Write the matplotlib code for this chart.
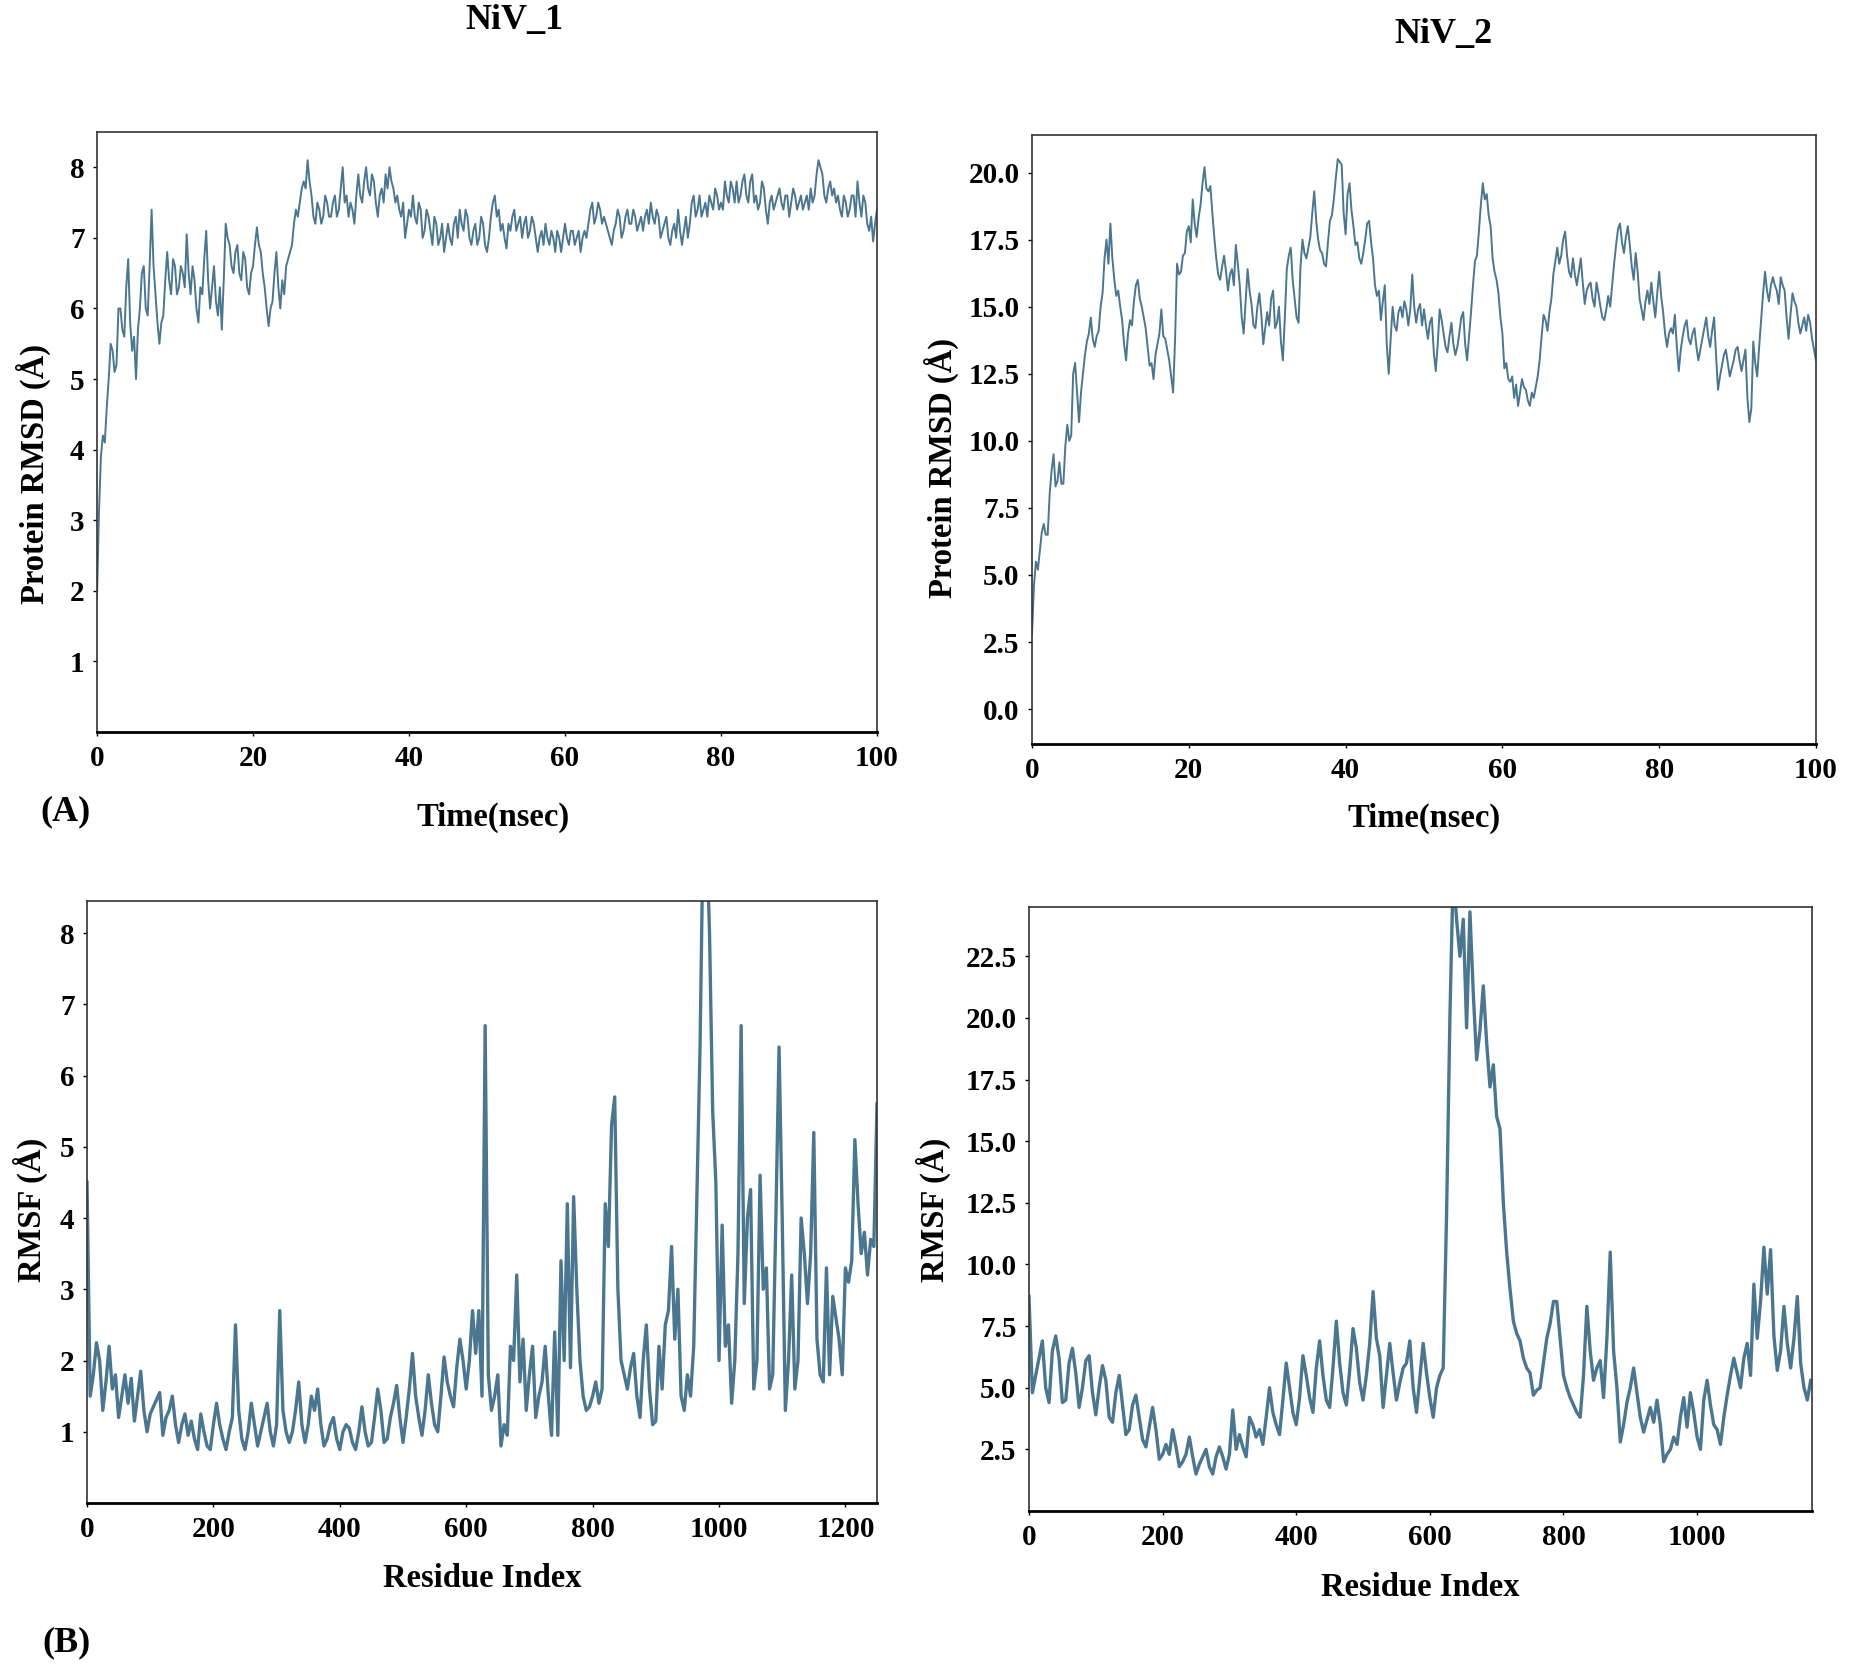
import numpy as np
import matplotlib
matplotlib.use("Agg")
import matplotlib.pyplot as plt

LINE_COLOR = "#4b7690"
FONT = ["Liberation Serif", "DejaVu Serif"]

# ---- RMSD NiV_1, one value every 0.25 ns (0..100 ns)
rmsd_step = 0.25
rmsd_niv1 = [
    1.9, 3.1, 3.9, 4.2, 4.1, 4.6, 5.0, 5.5, 5.4, 5.1, 5.2, 6.0, 6.0, 5.7, 5.6, 6.3, 6.7, 5.8, 5.4, 5.6,
    5.0, 5.7, 6.0, 6.5, 6.6, 6.0, 5.9, 6.6, 7.4, 6.6, 6.2, 5.8, 5.5, 5.8, 5.9, 6.4, 6.8, 6.4, 6.2, 6.7,
    6.6, 6.2, 6.3, 6.6, 6.5, 6.3, 7.05, 6.5, 6.2, 6.6, 6.4, 6.0, 5.8, 6.3, 6.2, 6.7, 7.1, 6.4, 6.0, 6.3,
    6.6, 6.1, 5.9, 6.3, 5.7, 6.4, 7.2, 7.0, 6.9, 6.6, 6.5, 6.8, 6.9, 6.5, 6.4, 6.8, 6.7, 6.3, 6.2, 6.5,
    6.6, 6.9, 7.15, 6.9, 6.8, 6.5, 6.3, 6.0, 5.75, 6.0, 6.1, 6.5, 6.8, 6.3, 6.0, 6.4, 6.2, 6.6, 6.7, 6.8,
    6.9, 7.2, 7.4, 7.3, 7.5, 7.7, 7.8, 7.7, 8.1, 7.8, 7.6, 7.3, 7.2, 7.5, 7.4, 7.2, 7.3, 7.6, 7.5, 7.3,
    7.3, 7.5, 7.6, 7.3, 7.4, 7.7, 8.0, 7.5, 7.6, 7.3, 7.5, 7.4, 7.2, 7.6, 7.9, 7.6, 7.5, 7.8, 8.0, 7.7,
    7.6, 7.9, 7.8, 7.5, 7.3, 7.6, 7.7, 7.5, 7.9, 7.7, 8.0, 7.8, 7.7, 7.5, 7.6, 7.4, 7.3, 7.5, 7.0, 7.2,
    7.4, 7.3, 7.6, 7.3, 7.2, 7.5, 7.4, 7.0, 7.1, 7.4, 7.3, 7.1, 6.9, 7.3, 7.2, 6.9, 7.0, 7.2, 6.8, 7.0,
    7.2, 7.0, 6.9, 7.2, 7.3, 7.0, 7.4, 7.2, 7.1, 7.4, 7.3, 7.0, 6.9, 7.1, 7.2, 6.9, 7.0, 7.3, 7.2, 6.9,
    6.8, 7.0, 7.3, 7.5, 7.6, 7.3, 7.4, 7.1, 7.2, 7.0, 6.85, 7.2, 7.1, 7.3, 7.4, 7.1, 7.2, 7.3, 7.0, 7.2,
    7.3, 7.0, 7.1, 7.3, 7.2, 7.0, 6.8, 7.0, 7.1, 6.9, 7.2, 7.0, 6.9, 7.1, 7.0, 6.8, 7.1, 7.0, 6.8, 7.0,
    7.2, 7.0, 6.9, 7.1, 7.1, 6.9, 7.0, 7.1, 6.8, 7.0, 7.1, 7.0, 7.2, 7.4, 7.5, 7.2, 7.3, 7.5, 7.4, 7.2,
    7.3, 7.2, 7.1, 7.0, 6.9, 7.1, 7.2, 7.4, 7.3, 7.0, 7.1, 7.3, 7.4, 7.2, 7.2, 7.4, 7.3, 7.1, 7.2, 7.3,
    7.1, 7.3, 7.4, 7.2, 7.5, 7.3, 7.2, 7.4, 7.3, 7.0, 7.1, 7.2, 7.3, 7.0, 6.9, 7.1, 7.2, 7.0, 7.4, 7.1,
    6.9, 7.1, 7.3, 7.0, 7.2, 7.5, 7.6, 7.3, 7.4, 7.6, 7.3, 7.4, 7.5, 7.3, 7.6, 7.5, 7.4, 7.7, 7.6, 7.4,
    7.5, 7.4, 7.8, 7.6, 7.5, 7.8, 7.7, 7.5, 7.8, 7.5, 7.6, 7.8, 7.9, 7.6, 7.5, 7.8, 7.9, 7.5, 7.6, 7.4,
    7.5, 7.8, 7.7, 7.4, 7.2, 7.5, 7.6, 7.4, 7.5, 7.6, 7.7, 7.5, 7.4, 7.6, 7.6, 7.3, 7.5, 7.7, 7.6, 7.4,
    7.5, 7.6, 7.4, 7.5, 7.6, 7.4, 7.7, 7.5, 7.6, 7.9, 8.1, 8.0, 7.9, 7.6, 7.5, 7.7, 7.8, 7.6, 7.7, 7.5,
    7.6, 7.4, 7.3, 7.6, 7.5, 7.3, 7.4, 7.6, 7.6, 7.3, 7.8, 7.5, 7.3, 7.6, 7.5, 7.2, 7.1, 7.3, 6.95, 7.2,
    7.4,
]

# ---- RMSD NiV_2, one value every 0.25 ns (0..100 ns)
rmsd_niv2 = [
    2.8, 4.6, 5.5, 5.2, 5.9, 6.6, 6.9, 6.5, 6.5, 8.0, 8.9, 9.5, 8.3, 8.5, 9.2, 8.4, 8.4, 9.8, 10.6, 10.0,
    10.2, 12.5, 12.9, 11.8, 10.7, 11.8, 12.5, 13.2, 13.7, 14.0, 14.6, 13.8, 13.5, 13.9, 14.1, 15.0, 15.5, 16.8, 17.5, 16.6,
    18.1, 16.8, 16.0, 15.4, 15.6, 15.0, 14.5, 13.6, 13.0, 14.0, 14.5, 14.3, 15.2, 15.8, 16.0, 15.3, 15.0, 14.6, 14.2, 13.5,
    12.8, 12.9, 12.3, 13.2, 13.6, 14.0, 14.9, 13.9, 13.8, 13.4, 13.0, 12.4, 11.8, 13.8, 16.6, 16.2, 16.3, 16.9, 17.0, 17.8,
    18.0, 17.4, 19.0, 18.1, 17.6, 18.3, 18.8, 19.6, 20.2, 19.4, 19.3, 19.5, 18.5, 17.6, 16.8, 16.2, 16.0, 16.5, 16.9, 16.3,
    15.6, 16.2, 16.4, 15.8, 17.3, 16.6, 15.8, 14.6, 14.0, 15.2, 16.4, 15.6, 15.1, 14.3, 14.2, 15.0, 15.5, 14.7, 13.6, 14.2,
    14.8, 14.3, 15.3, 15.6, 14.2, 14.4, 15.0, 13.7, 13.0, 14.6, 16.4, 16.9, 17.2, 16.0, 15.3, 14.6, 14.4, 16.5, 17.5, 17.0,
    16.8, 17.2, 17.6, 18.5, 19.3, 18.2, 17.5, 17.1, 17.0, 16.6, 16.5, 17.4, 18.2, 18.4, 19.0, 19.8, 20.5, 20.4, 20.3, 18.5,
    17.7, 19.2, 19.6, 18.6, 18.0, 17.3, 17.4, 16.8, 16.6, 17.0, 17.5, 18.1, 18.2, 17.4, 16.8, 15.8, 15.4, 15.6, 14.5, 15.2,
    15.8, 13.6, 12.5, 13.8, 15.0, 14.3, 14.1, 14.8, 15.0, 14.6, 15.2, 14.9, 14.3, 14.9, 16.2, 15.0, 14.4, 14.9, 15.1, 14.3,
    14.9, 14.3, 13.8, 14.4, 14.6, 13.3, 12.6, 13.6, 14.9, 14.5, 14.0, 13.5, 13.3, 13.9, 14.4, 13.6, 13.2, 13.5, 14.0, 14.6,
    14.8, 13.6, 13.0, 13.9, 14.8, 15.8, 16.7, 16.9, 17.8, 18.8, 19.6, 19.0, 19.2, 18.4, 18.0, 16.8, 16.3, 16.0, 15.5, 14.6,
    14.0, 12.7, 12.9, 12.3, 12.2, 12.4, 11.6, 12.1, 11.3, 11.8, 12.3, 12.0, 11.9, 11.5, 11.3, 11.8, 11.6, 12.0, 12.4, 13.0,
    13.9, 14.7, 14.5, 14.1, 14.8, 15.3, 16.2, 16.7, 17.2, 16.6, 16.9, 17.5, 17.8, 16.9, 16.3, 16.1, 16.8, 16.2, 15.8, 16.3,
    16.8, 15.9, 15.1, 15.6, 15.8, 15.9, 15.3, 15.0, 15.9, 15.5, 15.0, 14.6, 14.5, 14.9, 15.4, 15.0, 15.8, 16.6, 17.3, 17.9,
    18.1, 17.4, 17.0, 17.6, 18.0, 17.3, 16.5, 16.0, 17.0, 16.3, 15.3, 14.9, 14.5, 15.2, 15.6, 15.1, 15.9, 15.2, 14.6, 15.5,
    16.3, 15.4, 14.8, 14.0, 13.5, 14.0, 14.2, 14.0, 14.7, 13.5, 12.6, 13.4, 13.9, 14.3, 14.5, 13.8, 13.6, 14.0, 14.2, 13.5,
    13.0, 13.4, 13.8, 14.2, 14.6, 13.9, 13.5, 14.1, 14.6, 13.2, 11.9, 12.4, 12.8, 13.2, 13.4, 12.9, 12.4, 12.7, 13.0, 13.4,
    13.5, 13.0, 12.6, 13.0, 13.4, 11.6, 10.7, 11.2, 13.7, 12.9, 12.4, 13.5, 14.5, 15.5, 16.3, 15.6, 15.2, 15.8, 16.1, 15.8,
    15.6, 15.1, 16.1, 15.8, 15.6, 14.6, 13.8, 14.7, 15.5, 15.2, 15.0, 14.4, 14.0, 14.3, 14.6, 14.1, 14.7, 14.4, 13.8, 13.4,
    13.0,
]

# ---- RMSF NiV_1, one value every 5 residues (0..1250)
rmsf_step = 5
rmsf_niv1 = [
    4.5, 1.5, 1.8, 2.25, 2.0, 1.3, 1.7, 2.2, 1.6, 1.8,
    1.2, 1.5, 1.8, 1.4, 1.75, 1.15, 1.5, 1.85, 1.3, 1.0,
    1.25, 1.35, 1.45, 1.55, 0.95, 1.2, 1.3, 1.5, 1.1, 0.85,
    1.1, 1.25, 0.95, 1.15, 0.9, 0.75, 1.25, 1.0, 0.8, 0.75,
    1.1, 1.4, 1.1, 0.9, 0.75, 1.0, 1.2, 2.5, 1.3, 0.9,
    0.75, 1.0, 1.4, 1.1, 0.8, 1.0, 1.2, 1.4, 1.0, 0.8,
    1.1, 2.7, 1.3, 1.0, 0.85, 1.0, 1.3, 1.7, 1.1, 0.85,
    1.1, 1.5, 1.3, 1.6, 1.1, 0.8, 0.9, 1.1, 1.2, 0.9,
    0.75, 1.0, 1.1, 1.05, 0.85, 0.75, 1.0, 1.35, 1.0, 0.8,
    0.85, 1.2, 1.6, 1.3, 0.85, 0.9, 1.2, 1.4, 1.65, 1.2,
    0.85, 1.2, 1.6, 2.1, 1.5, 1.2, 0.95, 1.3, 1.8, 1.4,
    1.1, 1.0, 1.5, 2.05, 1.7, 1.5, 1.35, 1.9, 2.3, 2.0,
    1.6, 2.0, 2.7, 2.1, 2.7, 1.5, 6.7, 1.8, 1.3, 1.5,
    1.8, 0.8, 1.1, 0.95, 2.2, 2.0, 3.2, 1.7, 2.3, 1.3,
    1.8, 2.2, 1.2, 1.5, 1.7, 2.2, 1.5, 0.95, 2.4, 0.95,
    3.4, 2.0, 4.2, 1.9, 4.3, 3.0, 2.0, 1.5, 1.3, 1.35,
    1.5, 1.7, 1.4, 1.6, 4.2, 3.6, 5.3, 5.7, 3.0, 2.0,
    1.8, 1.6, 1.9, 2.1, 1.5, 1.2, 2.0, 2.5, 1.6, 1.1,
    1.15, 2.2, 1.6, 2.5, 2.7, 3.6, 2.3, 3.0, 1.5, 1.3,
    1.8, 1.5, 2.2, 4.3, 6.4, 9.5, 9.5, 8.0, 5.5, 4.5,
    2.0, 3.9, 2.2, 2.5, 1.4, 2.0, 3.5, 6.7, 2.8, 4.0,
    4.4, 1.6, 2.0, 4.6, 3.0, 3.3, 1.6, 1.8, 4.0, 6.4,
    4.0, 1.3, 2.0, 3.2, 1.6, 2.0, 4.0, 3.5, 2.8, 3.5,
    5.2, 2.3, 1.8, 1.7, 3.3, 1.8, 2.9, 2.6, 2.3, 1.8,
    3.3, 3.1, 3.4, 5.1, 4.2, 3.5, 3.8, 3.2, 3.7, 3.6,
    5.6,
]

# ---- RMSF NiV_2, one value every 5 residues (0..1170)
rmsf_niv2 = [
    8.7, 4.8, 5.5, 6.2, 6.9, 5.0, 4.4, 6.5, 7.1, 6.2,
    4.4, 4.5, 6.0, 6.6, 5.6, 4.2, 5.0, 6.1, 6.3, 4.8,
    3.9, 5.0, 5.9, 5.3, 3.8, 3.6, 4.8, 5.5, 4.3, 3.1,
    3.3, 4.3, 4.7, 3.8, 2.9, 2.6, 3.4, 4.2, 3.3, 2.1,
    2.3, 2.7, 2.3, 3.3, 2.6, 1.8, 2.0, 2.3, 3.0, 2.2,
    1.5, 1.9, 2.2, 2.5, 1.8, 1.5, 2.2, 2.6, 2.2, 1.7,
    2.3, 4.1, 2.5, 3.1, 2.6, 2.2, 3.8, 3.5, 3.0, 3.3,
    2.7, 3.8, 5.0, 4.0, 3.5, 3.1, 4.5, 6.0, 5.0, 4.0,
    3.5, 4.6, 6.3, 5.5, 4.6, 4.0, 5.8, 6.9, 5.5, 4.5,
    4.2, 5.8, 7.7, 6.0, 4.8, 4.3, 5.7, 7.4, 6.6, 5.2,
    4.5, 5.5, 6.8, 8.9, 7.0, 6.3, 4.2, 5.5, 6.8, 5.6,
    4.5, 5.2, 5.8, 6.0, 6.9, 5.0, 4.0, 5.4, 6.8, 5.6,
    4.6, 3.8, 5.0, 5.5, 5.8, 12.0, 20.0, 26.0, 24.0, 22.5,
    24.0, 19.6, 24.3, 21.0, 18.3, 19.5, 21.3, 19.0, 17.2, 18.1,
    16.0, 15.5, 12.5, 10.5, 9.0, 7.7, 7.2, 6.9, 6.2, 5.8,
    5.6, 4.7, 4.9, 5.0, 6.0, 7.0, 7.6, 8.5, 8.5, 7.0,
    5.5, 5.0, 4.6, 4.3, 4.0, 3.8, 5.5, 8.3, 6.5, 5.3,
    5.8, 6.1, 4.6, 7.0, 10.5, 6.5, 5.0, 2.8, 3.5, 4.4,
    5.0, 5.8, 4.8, 3.8, 3.2, 3.7, 4.2, 3.6, 4.5, 3.5,
    2.0, 2.3, 2.5, 3.0, 2.7, 3.8, 4.6, 3.4, 4.8, 4.0,
    3.0, 2.5, 4.5, 5.3, 4.3, 3.5, 3.3, 2.7, 3.8, 4.7,
    5.5, 6.2, 5.6, 5.0, 6.2, 6.8, 5.5, 9.2, 7.0, 8.5,
    10.7, 8.8, 10.6, 7.1, 5.7, 6.5, 8.3, 6.8, 5.8, 7.0,
    8.7, 6.0, 5.0, 4.5, 5.3,
]

W, H = 1851, 1676


def fig_rect(left, top, right, bottom):
    # pixel box -> figure fraction
    return [left / W, 1 - bottom / H, (right - left) / W, (bottom - top) / H]


def style_axes(ax, yticks, ylabels, xticks):
    ax.set_yticks(yticks)
    ax.set_yticklabels(ylabels)
    ax.set_xticks(xticks)
    ax.tick_params(axis="both", labelsize=21, length=3, width=1, pad=6)
    for lab in ax.get_xticklabels() + ax.get_yticklabels():
        lab.set_family(FONT)
        lab.set_fontweight("bold")
    for s in ax.spines.values():
        s.set_color("#333333")
        s.set_linewidth(1.2)
    ax.spines["bottom"].set_color("black")
    ax.spines["bottom"].set_linewidth(2.0)


fig = plt.figure(figsize=(W / 100, H / 100), dpi=100)
fig.patch.set_facecolor("white")

# (A) RMSD NiV_1
ax1 = fig.add_axes(fig_rect(97, 132, 877, 732))
t1 = np.arange(len(rmsd_niv1)) * rmsd_step
ax1.plot(t1, rmsd_niv1, color=LINE_COLOR, lw=1.4)
ax1.set_xlim(0, 100)
ax1.set_ylim(0, 8.5)
style_axes(ax1, [1, 2, 3, 4, 5, 6, 7, 8], ["1", "2", "3", "4", "5", "6", "7", "8"],
           [0, 20, 40, 60, 80, 100])

# (A) RMSD NiV_2
ax2 = fig.add_axes(fig_rect(1032, 135, 1816, 744))
t2 = np.arange(len(rmsd_niv2)) * rmsd_step
ax2.plot(t2, rmsd_niv2, color=LINE_COLOR, lw=1.4)
ax2.set_xlim(0, 100)
ax2.set_ylim(-1.3, 21.4)
yt2 = [0.0, 2.5, 5.0, 7.5, 10.0, 12.5, 15.0, 17.5, 20.0]
style_axes(ax2, yt2, [f"{v:.1f}" for v in yt2], [0, 20, 40, 60, 80, 100])

# (B) RMSF NiV_1
ax3 = fig.add_axes(fig_rect(87, 901, 877, 1503))
r1 = np.arange(len(rmsf_niv1)) * rmsf_step
ax3.plot(r1, rmsf_niv1, color=LINE_COLOR, lw=2.4)
ax3.set_xlim(0, 1250)
ax3.set_ylim(0, 8.45)
style_axes(ax3, [1, 2, 3, 4, 5, 6, 7, 8], ["1", "2", "3", "4", "5", "6", "7", "8"],
           [0, 200, 400, 600, 800, 1000, 1200])

# (B) RMSF NiV_2
ax4 = fig.add_axes(fig_rect(1029, 907, 1812, 1511))
r2 = np.arange(len(rmsf_niv2)) * rmsf_step
ax4.plot(r2, rmsf_niv2, color=LINE_COLOR, lw=2.4)
ax4.set_xlim(0, 1172)
ax4.set_ylim(0, 24.5)
yt4 = [2.5, 5.0, 7.5, 10.0, 12.5, 15.0, 17.5, 20.0, 22.5]
style_axes(ax4, yt4, [f"{v:.1f}" for v in yt4], [0, 200, 400, 600, 800, 1000])


def ftext(x, y, s, size, rot=0):
    fig.text(x / W, 1 - y / H, s, ha="center", va="center", rotation=rot,
             fontsize=size, fontweight="bold", family=FONT)


ftext(514, 21, "NiV_1", 26)
ftext(1443, 35, "NiV_2", 26)
ftext(65, 812, "(A)", 26)
ftext(67, 1643, "(B)", 26)
ftext(493, 817, "Time(nsec)", 23.5)
ftext(1424, 818, "Time(nsec)", 23.5)
ftext(482, 1578, "Residue Index", 23.5)
ftext(1420, 1587, "Residue Index", 23.5)
ftext(33, 474, "Protein RMSD (Å)", 23.5, rot=90)
ftext(941, 468, "Protein RMSD (Å)", 23.5, rot=90)
ftext(30, 1210, "RMSF (Å)", 23.5, rot=90)
ftext(933, 1210, "RMSF (Å)", 23.5, rot=90)

fig.savefig("out.png", dpi=100, facecolor="white")
